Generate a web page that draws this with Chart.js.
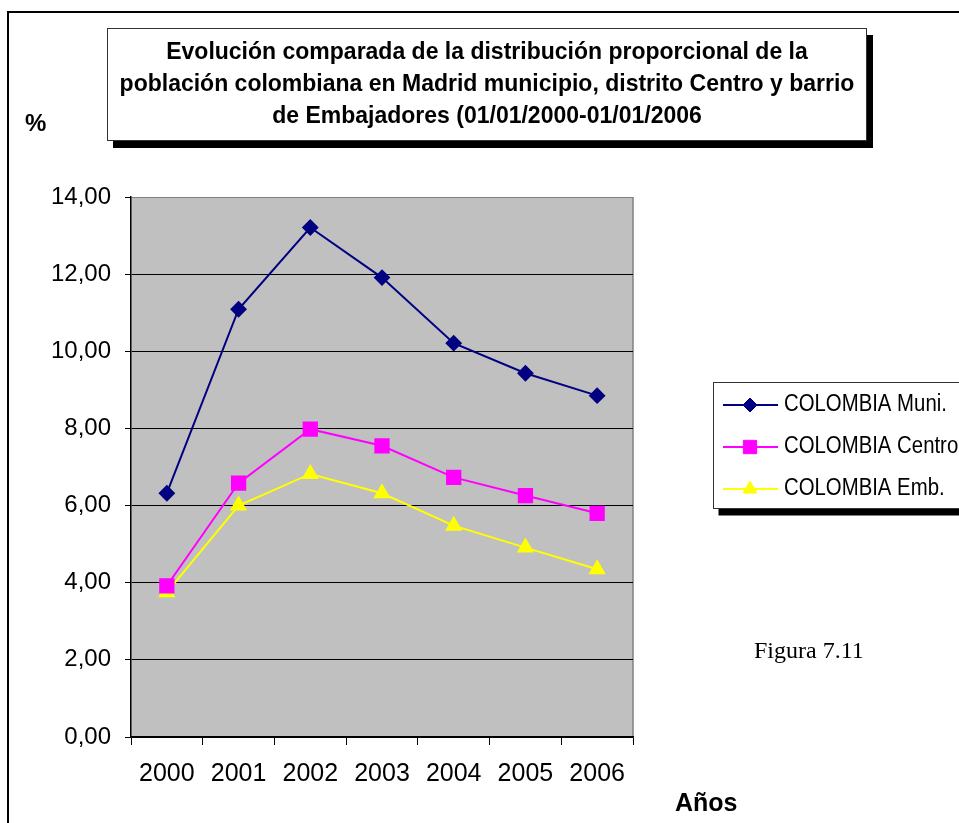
<!DOCTYPE html>
<html>
<head>
<meta charset="utf-8">
<script src="https://cdn.jsdelivr.net/npm/chart.js@4.4.1/dist/chart.umd.min.js"></script>
<style>
  html, body { margin: 0; padding: 0; background: #fff; }
  #wrap { position: relative; width: 959px; height: 823px; overflow: hidden; background: #fff; }
  #c { position: absolute; left: 0; top: 0; }
  .frame { position: absolute; left: 7px; top: 11px; width: 1000px; height: 900px;
           border-left: 2px solid #000; border-top: 2px solid #000; box-sizing: border-box; }
  .titlebox { position: absolute; left: 107px; top: 28px; width: 760px; height: 113px; box-sizing: border-box;
              border: 1px solid #333; background: #fff; box-shadow: 6px 7px 0 #000;
              font-family: "Liberation Sans", Arial, sans-serif; font-weight: bold; font-size: 23px;
              line-height: 32px; text-align: center; padding-top: 6px; color: #000; white-space: nowrap; }
  .lbl { position: absolute; font-family: "Liberation Sans", Arial, sans-serif; color: #000; white-space: nowrap; }
</style>
</head>
<body>
<div id="wrap">
  <canvas id="c" width="959" height="823"></canvas>
  <div class="frame"></div>
  <div class="titlebox">Evolución comparada de la distribución proporcional de la<br>población colombiana en Madrid municipio, distrito Centro y barrio<br>de Embajadores (01/01/2000-01/01/2006</div>
  <div class="lbl" style="left:25px; top:111px; font-size:24px; line-height:24px; font-weight:bold;">%</div>
  <div class="lbl" style="left:675px; top:790px; font-size:25px; line-height:25px; font-weight:bold;">Años</div>
  <div class="lbl" style="left:754px; top:638px; font-size:24px; line-height:24px; font-family:'Liberation Serif', 'Times New Roman', serif;">Figura 7.11</div>
</div>
<script>
const years = ['2000', '2001', '2002', '2003', '2004', '2005', '2006'];
const seriesNames = ['COLOMBIA Muni.', 'COLOMBIA Centro', 'COLOMBIA Emb.'];
const muni = [6.32, 11.09, 13.21, 11.91, 10.21, 9.43, 8.85];
const centro = [3.92, 6.58, 7.98, 7.55, 6.73, 6.26, 5.80];
const emb = [3.75, 6.00, 6.82, 6.32, 5.48, 4.91, 4.35];
const yTicks = [0, 2, 4, 6, 8, 10, 12, 14];

const FONT = '"Liberation Sans", Arial, sans-serif';

const plotBg = {
  id: 'plotBg',
  beforeDraw(chart) {
    const a = chart.chartArea, ctx = chart.ctx;
    ctx.save();
    ctx.fillStyle = '#C0C0C0';
    ctx.fillRect(a.left, a.top, a.right - a.left, a.bottom - a.top);
    ctx.strokeStyle = '#808080';
    ctx.lineWidth = 1.5;
    ctx.beginPath();
    ctx.moveTo(a.right, a.top);
    ctx.lineTo(a.right, a.bottom);
    ctx.stroke();
    ctx.restore();
  }
};

const boxLegend = {
  id: 'boxLegend',
  afterDraw(chart) {
    const ctx = chart.ctx;
    const bx = 713.5, by = 382.5, bw = 260, bh = 126;
    ctx.save();
    ctx.fillStyle = '#000';
    ctx.fillRect(bx + 5, by + 7, bw, bh);
    ctx.fillStyle = '#fff';
    ctx.fillRect(bx, by, bw, bh);
    ctx.strokeStyle = '#333';
    ctx.lineWidth = 1;
    ctx.strokeRect(bx, by, bw, bh);
    const ys = [405, 447, 489];
    chart.data.datasets.forEach((ds, i) => {
      const y = ys[i];
      ctx.strokeStyle = ds.borderColor;
      ctx.lineWidth = 2;
      ctx.beginPath();
      ctx.moveTo(723, y);
      ctx.lineTo(778, y);
      ctx.stroke();
      ctx.fillStyle = ds.pointBackgroundColor;
      ctx.strokeStyle = ds.pointBorderColor;
      ctx.lineWidth = 1;
      Chart.helpers.drawPoint(ctx, {
        pointStyle: ds.pointStyle, rotation: 0, radius: ds.pointRadius, borderWidth: 1
      }, 750, y);
      ctx.fillStyle = '#000';
      ctx.font = '23px ' + FONT;
      ctx.textBaseline = 'middle';
      ctx.textAlign = 'left';
      ctx.save();
      ctx.translate(784, y);
      ctx.scale(0.885, 1);
      ctx.fillText(ds.label, 0, 0);
      ctx.restore();
    });
    ctx.restore();
  }
};

new Chart(document.getElementById('c'), {
  type: 'line',
  data: {
    labels: years,
    datasets: [
      { label: seriesNames[0], data: muni, borderColor: '#000080', backgroundColor: '#000080',
        pointBackgroundColor: '#000080', pointBorderColor: '#000080', pointStyle: 'rectRot', pointRadius: 7,
        borderWidth: 2, tension: 0, fill: false },
      { label: seriesNames[1], data: centro, borderColor: '#FF00FF', backgroundColor: '#FF00FF',
        pointBackgroundColor: '#FF00FF', pointBorderColor: '#FF00FF', pointStyle: 'rect', pointRadius: 9.4,
        borderWidth: 2, tension: 0, fill: false },
      { label: seriesNames[2], data: emb, borderColor: '#FFFF00', backgroundColor: '#FFFF00',
        pointBackgroundColor: '#FFFF00', pointBorderColor: '#FFFF00', pointStyle: 'triangle', pointRadius: 8,
        borderWidth: 2, tension: 0, fill: false }
    ]
  },
  options: {
    responsive: false,
    animation: false,
    devicePixelRatio: 1,
    layout: { padding: { top: 197, right: 326, left: 0, bottom: 0 } },
    plugins: { legend: { display: false }, tooltip: { enabled: false }, title: { display: false } },
    elements: { point: { borderWidth: 1, hoverRadius: 7 } },
    scales: {
      x: {
        type: 'category',
        offset: true,
        afterFit(scale) { scale.height = 86; },
        grid: { display: true, offset: true, drawOnChartArea: false, drawTicks: true, tickLength: 8,
                color: '#000', tickColor: '#000', lineWidth: 1 },
        border: { display: true, color: '#000', width: 1.5 },
        ticks: { color: '#000', font: { family: FONT, size: 25 }, padding: 14, maxRotation: 0, autoSkip: false }
      },
      y: {
        min: 0, max: 14,
        afterFit(scale) { scale.width = 131; },
        afterBuildTicks(scale) { scale.ticks = yTicks.map(v => ({ value: v })); },
        grid: { color: ctx => (ctx.tick && ctx.tick.value === 14 ? '#808080' : '#000'),
                tickColor: '#000', tickLength: 6, lineWidth: 1 },
        border: { display: true, color: '#000', width: 1.5 },
        ticks: { color: '#000', font: { family: FONT, size: 24 }, padding: 14,
                 callback: v => Number(v).toFixed(2).replace('.', ',') }
      }
    }
  },
  plugins: [plotBg, boxLegend]
});
</script>
</body>
</html>
